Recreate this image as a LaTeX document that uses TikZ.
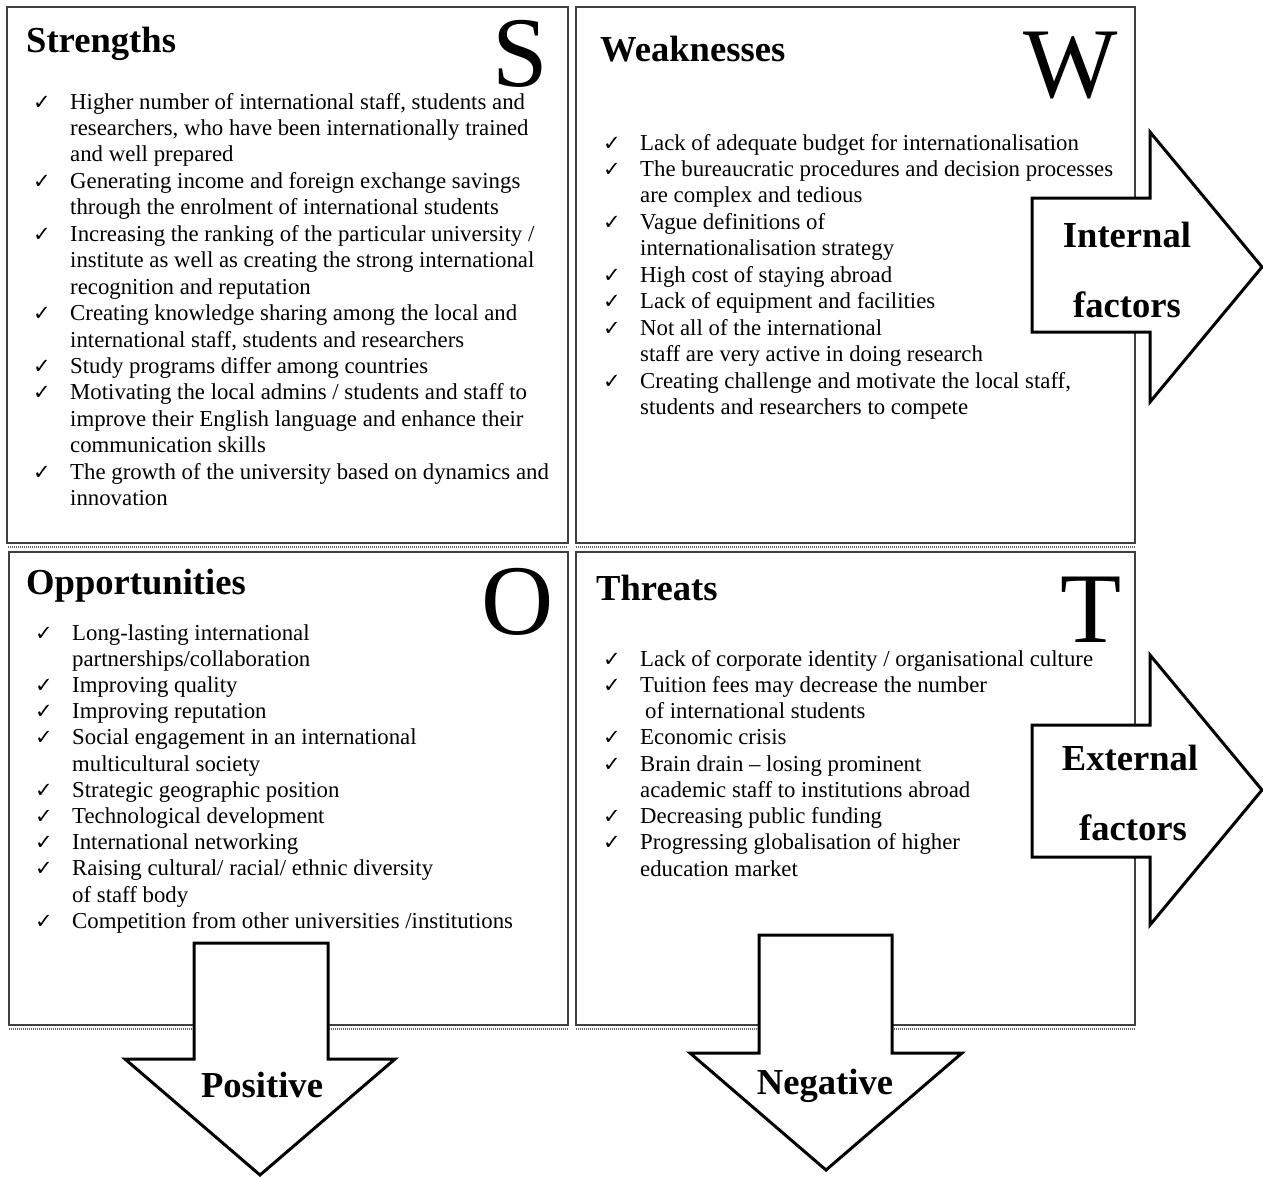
\documentclass[tikz,border=0pt]{standalone}
\usepackage{fontspec}
\setmainfont{Liberation Serif}
\newfontfamily\ckfont{DejaVu Sans}
\tikzset{
  body/.style={anchor=base west, inner sep=0pt, font=\fontsize{22.8}{26}\selectfont},
  chk/.style={anchor=base west, inner sep=0pt, font=\ckfont\fontsize{21}{24}\selectfont},
  ttl/.style={anchor=base west, inner sep=0pt, font=\fontsize{36.6}{40}\selectfont\bfseries},
  big/.style={anchor=base, inner sep=0pt, font=\fontsize{100}{100}\selectfont},
  arrlbl/.style={anchor=base, inner sep=0pt, font=\fontsize{36.6}{40}\selectfont\bfseries},
  boxline/.style={draw=black!75, line width=1.6pt},
  stripe/.style={draw=black!60, line width=2.2pt, dash pattern=on 1.2pt off 0.8pt},
  bigarrow/.style={draw=black, fill=white, line width=3pt, line join=miter}
}
\newcommand\li[5]{%
  \node[body] (#1) at (#2,{#3}) {#5};
  \ifnum#4=1 \node[chk] (#1c) at ({#2-37},{#3}) {✓};\fi
}
\begin{document}
\begin{tikzpicture}[x=1pt,y=-1pt]
\useasboundingbox (0,0) rectangle (1263,1176);
\fill[white] (0,0) rectangle (1263,1176);
% boxes
\draw[boxline] (7,7) rectangle (568,543);
\draw[boxline] (576,7) rectangle (1135,543);
\draw[boxline] (9,552) rectangle (568,1025);
\draw[boxline] (576,552) rectangle (1135,1025);
\draw[stripe] (8,547) -- (568,547);
\draw[stripe] (576,547) -- (1135,547);
\draw[stripe] (9,1029) -- (568,1029);
\draw[stripe] (576,1029) -- (1135,1029);
% titles and letters
\node[ttl] (st) at (26,52) {Strengths};
\node[ttl] (wt) at (600,61) {Weaknesses};
\node[ttl] (ot) at (26,594) {Opportunities};
\node[ttl] (tt) at (596,600) {Threats};
\node[big] (sl) at (520,86) {S};
\node[big] (wl) at (1071,97) {W};
\node[big] (ol) at (518,634) {O};
\node[big] (tl) at (1091,642) {T};
% Strengths
\li{s1}{70}{109+26.45*0}{1}{Higher number of international staff, students and}
\li{s2}{70}{109+26.45*1}{0}{researchers, who have been internationally trained}
\li{s3}{70}{109+26.45*2}{0}{and well prepared}
\li{s4}{70}{109+26.45*3}{1}{Generating income and foreign exchange savings}
\li{s5}{70}{109+26.45*4}{0}{through the enrolment of international students}
\li{s6}{70}{109+26.45*5}{1}{Increasing the ranking of the particular university /}
\li{s7}{70}{109+26.45*6}{0}{institute as well as creating the strong international}
\li{s8}{70}{109+26.45*7}{0}{recognition and reputation}
\li{s9}{70}{109+26.45*8}{1}{Creating knowledge sharing among the local and}
\li{s10}{70}{109+26.45*9}{0}{international staff, students and researchers}
\li{s11}{70}{109+26.45*10}{1}{Study programs differ among countries}
\li{s12}{70}{109+26.45*11}{1}{Motivating the local admins / students and staff to}
\li{s13}{70}{109+26.45*12}{0}{improve their English language and enhance their}
\li{s14}{70}{109+26.45*13}{0}{communication skills}
\li{s15}{70}{109+26.45*14}{1}{The growth of the university based on dynamics and}
\li{s16}{70}{109+26.45*15}{0}{innovation}
% Weaknesses
\li{w1}{640}{150+26.45*0}{1}{Lack of adequate budget for internationalisation}
\li{w2}{640}{150+26.45*1}{1}{The bureaucratic procedures and decision processes}
\li{w3}{640}{150+26.45*2}{0}{are complex and tedious}
\li{w4}{640}{150+26.45*3}{1}{Vague definitions of}
\li{w5}{640}{150+26.45*4}{0}{internationalisation strategy}
\li{w6}{640}{150+26.45*5}{1}{High cost of staying abroad}
\li{w7}{640}{150+26.45*6}{1}{Lack of equipment and facilities}
\li{w8}{640}{150+26.45*7}{1}{Not all of the international}
\li{w9}{640}{150+26.45*8}{0}{staff are very active in doing research}
\li{w10}{640}{150+26.45*9}{1}{Creating challenge and motivate the local staff,}
\li{w11}{640}{150+26.45*10}{0}{students and researchers to compete}
% Opportunities
\li{o1}{72}{640+26.2*0}{1}{Long-lasting international}
\li{o2}{72}{640+26.2*1}{0}{partnerships/collaboration}
\li{o3}{72}{640+26.2*2}{1}{Improving quality}
\li{o4}{72}{640+26.2*3}{1}{Improving reputation}
\li{o5}{72}{640+26.2*4}{1}{Social engagement in an international}
\li{o6}{72}{640+26.2*5}{0}{multicultural society}
\li{o7}{72}{640+26.2*6}{1}{Strategic geographic position}
\li{o8}{72}{640+26.2*7}{1}{Technological development}
\li{o9}{72}{640+26.2*8}{1}{International networking}
\li{o10}{72}{640+26.2*9}{1}{Raising cultural/ racial/ ethnic diversity}
\li{o11}{72}{640+26.2*10}{0}{of staff body}
\li{o12}{72}{640+26.2*11}{1}{Competition from other universities /institutions}
% Threats
\li{t1}{640}{666+26.25*0}{1}{Lack of corporate identity / organisational culture}
\li{t2}{640}{666+26.25*1}{1}{Tuition fees may decrease the number}
\li{t3}{645}{666+26.25*2}{0}{of international students}
\li{t4}{640}{666+26.25*3}{1}{Economic crisis}
\li{t5}{640}{666+26.25*4}{1}{Brain drain – losing prominent}
\li{t6}{640}{666+26.25*5}{0}{academic staff to institutions abroad}
\li{t7}{640}{666+26.25*6}{1}{Decreasing public funding}
\li{t8}{640}{666+26.25*7}{1}{Progressing globalisation of higher}
\li{t9}{640}{666+26.25*8}{0}{education market}
% big arrows
\draw[bigarrow] (1032,198) -- (1150,198) -- (1150,132) -- (1262,267) -- (1150,402) -- (1150,332) -- (1032,332) -- cycle;
\draw[bigarrow] (1032,725) -- (1150,725) -- (1150,655) -- (1262,790) -- (1150,925) -- (1150,857) -- (1032,857) -- cycle;
\draw[bigarrow] (194,943) -- (328,943) -- (328,1059) -- (395,1059) -- (260,1175) -- (125,1059) -- (194,1059) -- cycle;
\draw[bigarrow] (759,935) -- (892,935) -- (892,1053) -- (962,1053) -- (826,1170) -- (690,1053) -- (759,1053) -- cycle;
\node[arrlbl] (in1) at (1127,247) {Internal};
\node[arrlbl] (in2) at (1127,317) {factors};
\node[arrlbl] (ex1) at (1130,770) {External};
\node[arrlbl] (ex2) at (1133,840) {factors};
\node[arrlbl] (pos) at (262,1097) {Positive};
\node[arrlbl] (neg) at (825,1094) {Negative};
\end{tikzpicture}
\end{document}
